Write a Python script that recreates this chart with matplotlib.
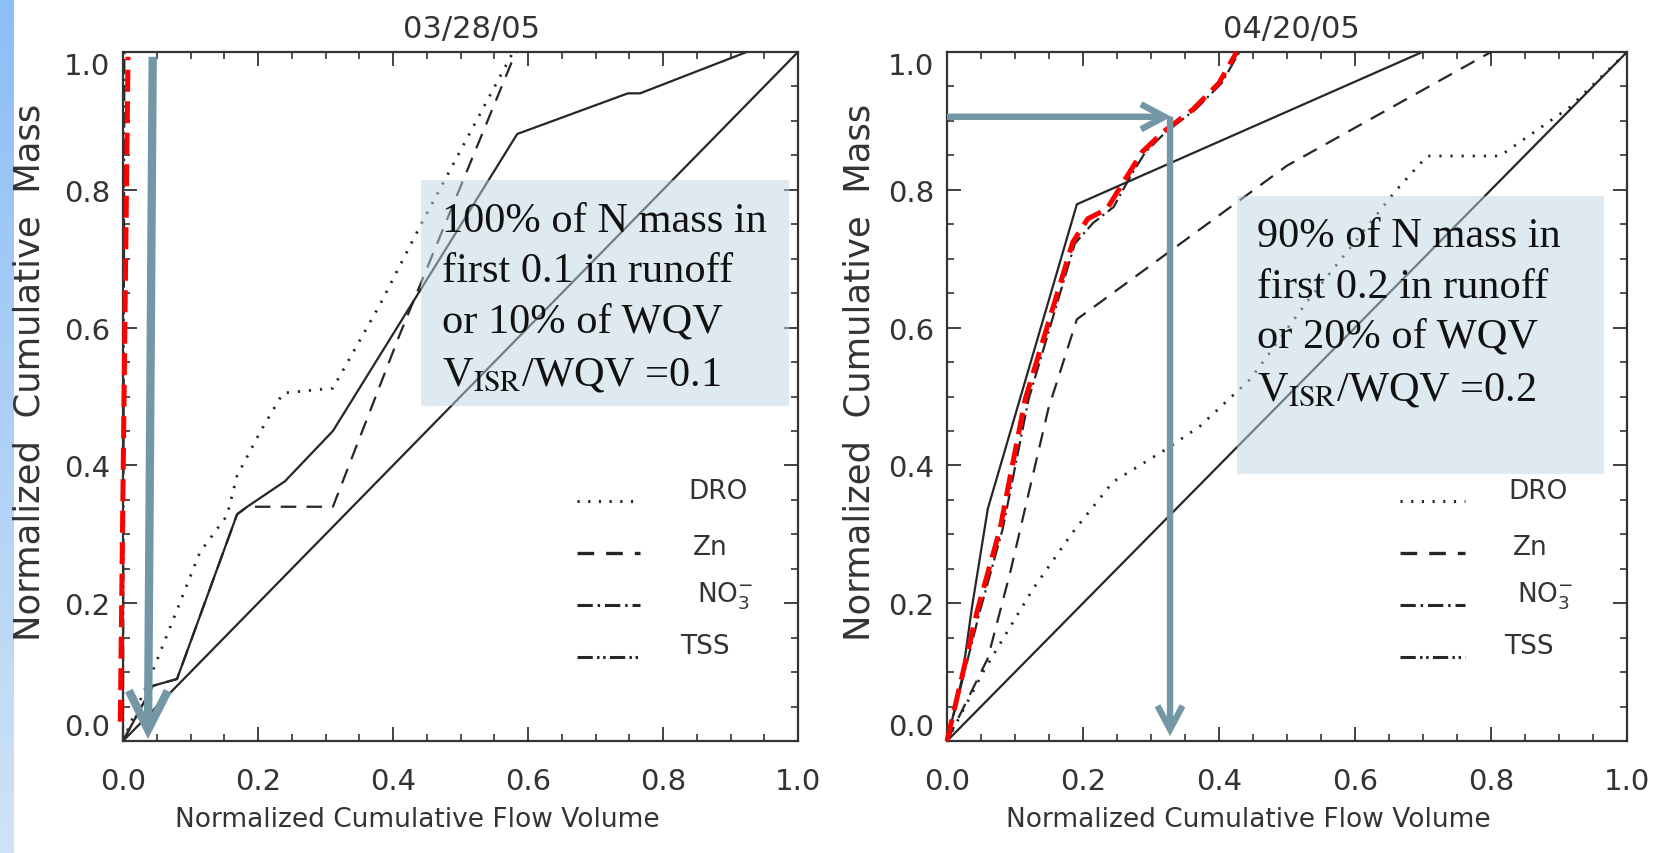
import numpy as np
import matplotlib
matplotlib.use("Agg")
import matplotlib.pyplot as plt
from matplotlib.patches import FancyArrowPatch, Rectangle
from matplotlib.ticker import MultipleLocator

plt.rcParams['font.family'] = ['DejaVu Sans']

# ---------------- data ----------------
tick_values = [0.0, 0.2, 0.4, 0.6, 0.8, 1.0]
tick_labels = ['0.0', '0.2', '0.4', '0.6', '0.8', '1.0']
panel_titles = ['03/28/05', '04/20/05']
legend_labels = ['DRO', 'Zn', r'NO$_3^{-}$', 'TSS']

# 1:1 reference line
ref_x = [0.0, 1.0]
ref_y = [0.0, 1.0]

# 03/28/05 event
a_tss_x = [0.0, 0.044, 0.080, 0.169, 0.184, 0.240, 0.311, 0.584, 0.748, 0.766, 0.924]
a_tss_y = [0.0, 0.080, 0.090, 0.329, 0.340, 0.377, 0.450, 0.881, 0.940, 0.940, 1.000]
a_zn_x = [0.0, 0.044, 0.080, 0.169, 0.184, 0.311, 0.410, 0.582]
a_zn_y = [0.0, 0.080, 0.090, 0.329, 0.340, 0.340, 0.590, 1.000]
a_dro_x = [0.0, 0.047, 0.114, 0.154, 0.169, 0.203, 0.237, 0.311, 0.381, 0.440, 0.578]
a_dro_y = [0.0, 0.109, 0.274, 0.327, 0.385, 0.448, 0.505, 0.512, 0.634, 0.747, 1.000]
a_no3_x = [0.0, 0.002]
a_no3_y = [0.0, 1.000]
a_hl_x = [-0.004, 0.0074]
a_hl_y = [0.028, 0.993]

# 04/20/05 event
b_tss_x = [0.0, 0.022, 0.037, 0.060, 0.191, 0.699]
b_tss_y = [0.0, 0.090, 0.196, 0.337, 0.779, 1.000]
b_zn_x = [0.0, 0.060, 0.093, 0.149, 0.191, 0.500, 0.800]
b_zn_y = [0.0, 0.120, 0.245, 0.482, 0.612, 0.835, 1.000]
b_dro_x = [0.0, 0.053, 0.126, 0.185, 0.244, 0.323, 0.372, 0.446, 0.529, 0.662, 0.706, 0.813, 0.916, 1.0]
b_dro_y = [0.0, 0.100, 0.220, 0.303, 0.376, 0.424, 0.457, 0.525, 0.637, 0.801, 0.849, 0.849, 0.920, 1.0]
b_no3_x = [0.0, 0.048, 0.082, 0.120, 0.188, 0.215, 0.245, 0.270, 0.292, 0.322, 0.366, 0.404, 0.430]
b_no3_y = [0.0, 0.187, 0.308, 0.496, 0.722, 0.752, 0.775, 0.820, 0.855, 0.884, 0.917, 0.955, 1.000]
b_hl_x = [0.0, 0.044, 0.078, 0.115, 0.185, 0.207, 0.235, 0.265, 0.287, 0.318, 0.362, 0.400, 0.426]
b_hl_y = [0.0, 0.187, 0.308, 0.496, 0.724, 0.758, 0.772, 0.820, 0.855, 0.884, 0.917, 0.955, 1.000]

note_a = ['100% of N mass in', 'first 0.1 in runoff', 'or 10% of WQV',
          r'V$_{\mathrm{ISR}}$/WQV =0.1']
note_b = ['90% of N mass in', 'first 0.2 in runoff', 'or 20% of WQV',
          r'V$_{\mathrm{ISR}}$/WQV =0.2']

# ---------------- styles ----------------
INK = '#262626'
ARROW = '#7397a5'
STYLE = {
    'ref': dict(color=INK, lw=1.6, ls='-'),
    'tss': dict(color=INK, lw=1.6, ls='-'),
    'dro': dict(color=INK, lw=2.0, ls=(0, (0.8, 3.2))),
    'zn': dict(color=INK, lw=1.6, ls=(0, (7.0, 4.6))),
    'no3': dict(color=INK, lw=1.6, ls=(0, (7.0, 2.0, 1.0, 2.0))),
    'hl': dict(color='#ff0000', lw=3.6, ls=(0, (4.4, 1.9))),
}
LEG_STYLE = [
    dict(color=INK, lw=2.2, ls=(0, (0.7, 2.8))),
    dict(color=INK, lw=2.4, ls=(0, (5.0, 3.6))),
    dict(color=INK, lw=2.2, ls=(0, (5.0, 1.6, 0.8, 1.6))),
    dict(color=INK, lw=2.2, ls=(0, (5.0, 1.4, 0.8, 1.2, 0.8, 1.4))),
]
TEXT_C = '#333333'

fig = plt.figure(figsize=(16.53, 8.54), dpi=100)

# slide edge strip
strip = fig.add_axes([0, 0, 14 / 1653, 1])
top_c = np.array([140, 190, 248]) / 255
bot_c = np.array([208, 226, 245]) / 255
t = np.linspace(0, 1, 256)[:, None, None]
strip.imshow(top_c * (1 - t) + bot_c * t, aspect='auto', extent=[0, 1, 0, 1])
strip.axis('off')

ax_a = fig.add_axes([123 / 1653, 1 - 742 / 854, 675 / 1653, 689 / 854])
ax_b = fig.add_axes([947 / 1653, 1 - 742 / 854, 680 / 1653, 689 / 854])


def style_axes(ax, title, title_x, xlab_x, ylab_x):
    ax.set_xlim(0, 1)
    ax.set_ylim(0, 1)
    ax.set_xticks(tick_values)
    ax.set_xticklabels(tick_labels)
    ax.set_yticks(tick_values)
    ax.set_yticklabels(tick_labels)
    ax.xaxis.set_minor_locator(MultipleLocator(0.05))
    ax.yaxis.set_minor_locator(MultipleLocator(0.05))
    ax.tick_params(which='both', direction='in', top=True, right=True,
                   colors=TEXT_C, labelcolor=TEXT_C)
    ax.tick_params(which='major', length=10, width=1.3, labelsize=21)
    ax.tick_params(which='minor', length=5, width=1.2)
    ax.tick_params(axis='x', which='major', pad=19)
    ax.tick_params(axis='y', which='major', pad=9)
    for s in ax.spines.values():
        s.set_linewidth(1.6)
        s.set_color(TEXT_C)
    ylbls = ax.get_yticklabels()
    ylbls[0].set_va('bottom')
    ylbls[-1].set_va('top')
    ax.set_title(title, fontsize=22, pad=11, color=TEXT_C)
    ax.title.set_x(title_x)
    ax.set_xlabel('Normalized Cumulative Flow Volume', fontsize=19, color=TEXT_C)
    ax.xaxis.set_label_coords(xlab_x, -0.113)
    ax.xaxis.label.set_va('center')
    ax.set_ylabel('Normalized  Cumulative  Mass', fontsize=25.5, color=TEXT_C)
    ax.yaxis.set_label_coords(ylab_x, 0.536)
    ax.yaxis.label.set_va('center')


def draw_legend(ax, x0, x1, label_x):
    rows_line = [0.348, 0.273, 0.198, 0.122]
    rows_text = [0.363, 0.281, 0.211, 0.138]
    for lab, st, yl, yt, lx in zip(legend_labels, LEG_STYLE, rows_line, rows_text, label_x):
        ax.plot([x0, x1], [yl, yl], transform=ax.transAxes, **st)
        ax.text(lx, yt, lab, transform=ax.transAxes, fontsize=19,
                color=TEXT_C, va='center', ha='left')


def draw_note(ax, box, lines, tx, baselines):
    x0, y0, x1, y1 = box
    ax.add_patch(Rectangle((x0, y0), x1 - x0, y1 - y0, facecolor='#c0d5e2',
                           alpha=0.5, edgecolor='none', zorder=4))
    for line, yb in zip(lines, baselines):
        ax.text(tx, yb, line, fontsize=30.5, family='Liberation Serif',
                math_fontfamily='stix', color='#111111', va='baseline',
                ha='left', zorder=5)


def draw_arrow(ax, p0, p1, lw, hl, hw):
    arr = FancyArrowPatch(p0, p1, arrowstyle=f'->,head_length={hl},head_width={hw}',
                          mutation_scale=1, lw=lw, color=ARROW, shrinkA=0, shrinkB=0,
                          zorder=7, clip_on=False, capstyle='butt', joinstyle='miter')
    ax.add_patch(arr)


# ---- panel 1 ----
ax = ax_a
style_axes(ax, panel_titles[0], 0.516, 0.436, -0.138)
ax.plot(ref_x, ref_y, **STYLE['ref'])
ax.plot(a_tss_x, a_tss_y, **STYLE['tss'])
ax.plot(a_zn_x, a_zn_y, **STYLE['zn'])
ax.plot(a_dro_x, a_dro_y, **STYLE['dro'])
ax.plot(a_no3_x, a_no3_y, clip_on=False, **STYLE['no3'])
ax.plot(a_hl_x, a_hl_y, clip_on=False, zorder=6, **STYLE['hl'])
draw_legend(ax, 0.673, 0.766, [0.837, 0.844, 0.850, 0.825])
draw_note(ax, (0.441, 0.486, 0.987, 0.814), note_a, 0.473,
          [0.740, 0.668, 0.594, 0.518])
draw_arrow(ax, (0.044, 0.993), (0.037, 0.003), 6.0, 28, 14)

# ---- panel 2 ----
ax = ax_b
style_axes(ax, panel_titles[1], 0.507, 0.443, -0.129)
ax.plot(ref_x, ref_y, **STYLE['ref'])
ax.plot(b_tss_x, b_tss_y, **STYLE['tss'])
ax.plot(b_zn_x, b_zn_y, **STYLE['zn'])
ax.plot(b_dro_x, b_dro_y, **STYLE['dro'])
ax.plot(b_no3_x, b_no3_y, **STYLE['no3'])
ax.plot(b_hl_x, b_hl_y, clip_on=False, zorder=6, **STYLE['hl'])
draw_legend(ax, 0.666, 0.762, [0.825, 0.832, 0.838, 0.820])
draw_note(ax, (0.426, 0.388, 0.966, 0.791), note_b, 0.456,
          [0.718, 0.644, 0.572, 0.496])
draw_arrow(ax, (0.0, 0.906), (0.330, 0.906), 4.6, 17, 9)
draw_arrow(ax, (0.328, 0.906), (0.328, 0.007), 4.6, 17, 9)

fig.savefig('out.png', dpi=100)
